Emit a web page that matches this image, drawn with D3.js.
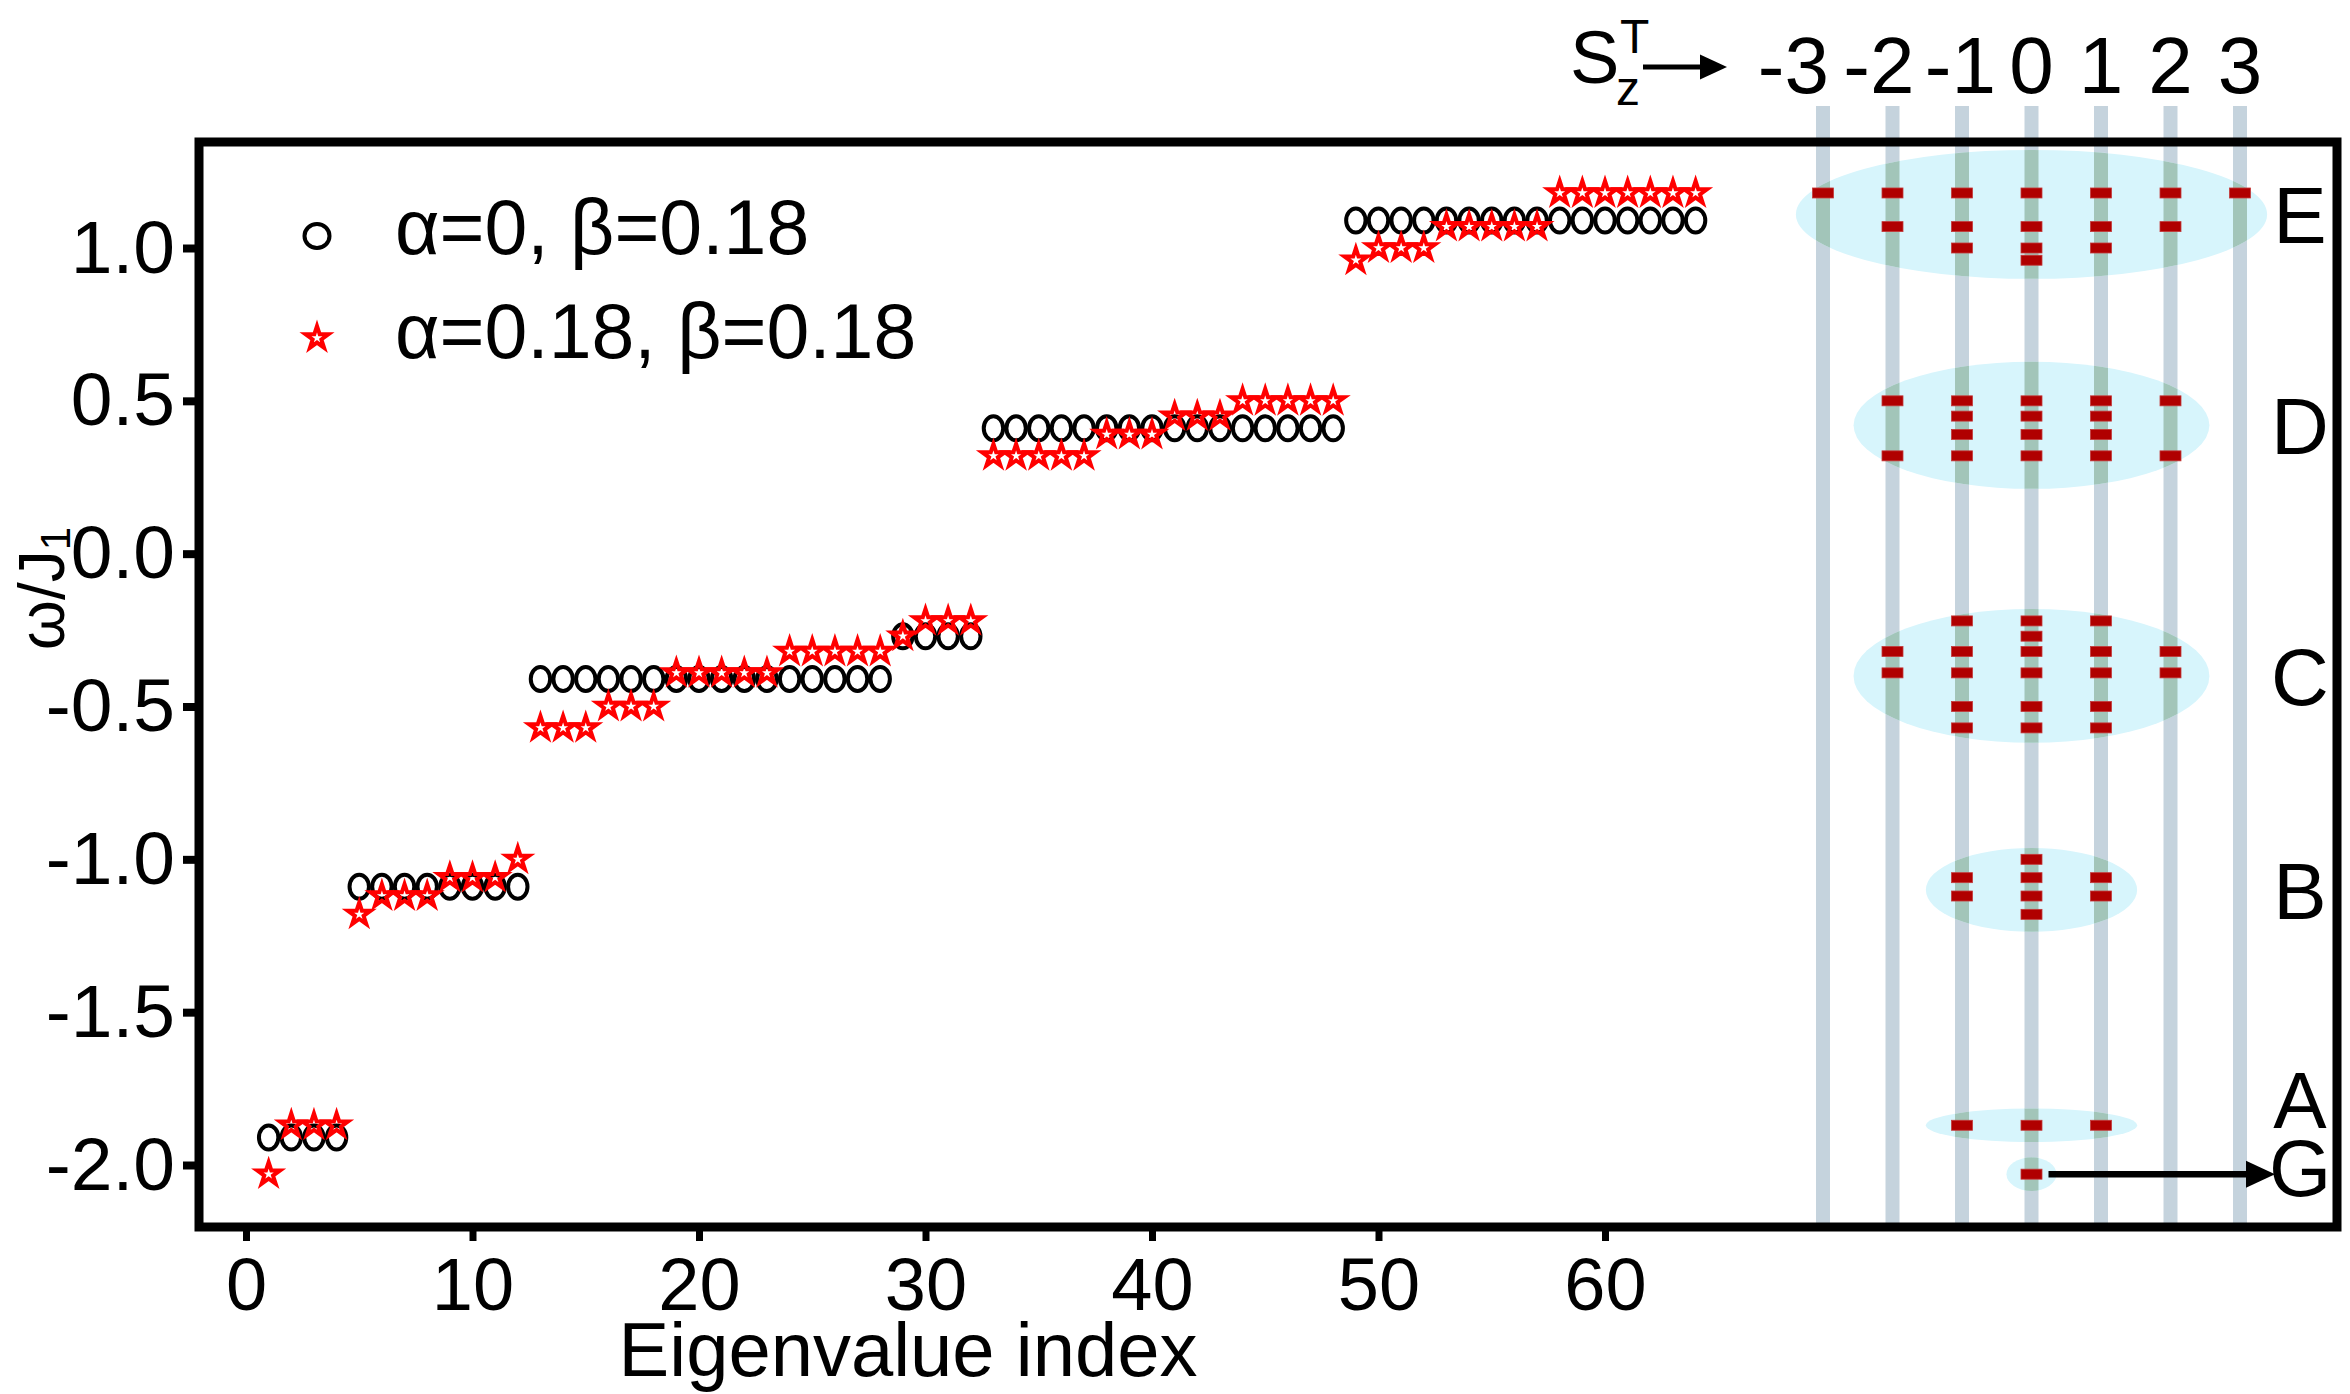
<!DOCTYPE html>
<html>
<head>
<meta charset="utf-8">
<script src="https://cdn.jsdelivr.net/npm/d3@7"></script>
<style>
  body { margin: 0; background: #fff; }
  text { font-family: "Liberation Sans", Arial, sans-serif; fill: #000; }
</style>
</head>
<body>
<script>
// eigenvalue index of every point
var indices = [
  1, 2, 3, 4, 5, 6, 7, 8, 9, 10, 11, 12, 13, 14, 15, 16,
  17, 18, 19, 20, 21, 22, 23, 24, 25, 26, 27, 28, 29, 30, 31, 32,
  33, 34, 35, 36, 37, 38, 39, 40, 41, 42, 43, 44, 45, 46, 47, 48,
  49, 50, 51, 52, 53, 54, 55, 56, 57, 58, 59, 60, 61, 62, 63, 64
];

// alpha=0, beta=0.18  (black circles)
var circleValues = [
  -1.91, -1.91, -1.91, -1.91,
  -1.09, -1.09, -1.09, -1.09, -1.09, -1.09, -1.09, -1.09,
  -0.41, -0.41, -0.41, -0.41, -0.41, -0.41, -0.41, -0.41,
  -0.41, -0.41, -0.41, -0.41, -0.41, -0.41, -0.41, -0.41,
  -0.27, -0.27, -0.27, -0.27,
  0.41, 0.41, 0.41, 0.41, 0.41, 0.41, 0.41, 0.41,
  0.41, 0.41, 0.41, 0.41, 0.41, 0.41, 0.41, 0.41,
  1.09, 1.09, 1.09, 1.09, 1.09, 1.09, 1.09, 1.09,
  1.09, 1.09, 1.09, 1.09, 1.09, 1.09, 1.09, 1.09
];

// alpha=0.18, beta=0.18  (red stars)
var starValues = [
  -2.03,
  -1.87, -1.87, -1.87,
  -1.18,
  -1.12, -1.12, -1.12,
  -1.06, -1.06, -1.06,
  -1.00,
  -0.57, -0.57, -0.57,
  -0.50, -0.50, -0.50,
  -0.39, -0.39, -0.39, -0.39, -0.39,
  -0.32, -0.32, -0.32, -0.32, -0.32,
  -0.27,
  -0.22, -0.22, -0.22,
  0.32, 0.32, 0.32, 0.32, 0.32,
  0.39, 0.39, 0.39,
  0.45, 0.45, 0.45,
  0.50, 0.50, 0.50, 0.50, 0.50,
  0.96,
  1.00, 1.00, 1.00,
  1.07, 1.07, 1.07, 1.07, 1.07,
  1.18, 1.18, 1.18, 1.18, 1.18, 1.18, 1.18
];

var seriesNames = ["\u03b1=0, \u03b2=0.18", "\u03b1=0.18, \u03b2=0.18"];

var xTicks = [0, 10, 20, 30, 40, 50, 60];
var yTicks = [-2, -1.5, -1, -0.5, 0, 0.5, 1];
var szValues = [-3, -2, -1, 0, 1, 2, 3];

// groups of levels in the S_z^T panel (energy centre, half height in energy, half width in S_z)
var groupNames = ["G", "A", "B", "C", "D", "E"];
var groupLevel = [-2.03, -1.87, -1.10, -0.40, 0.42, 1.11];
var groupHalfHeight = [0.055, 0.055, 0.137, 0.219, 0.208, 0.211];
var groupHalfWidth = [0.36, 1.52, 1.52, 2.56, 2.56, 3.39];

var W = 2350, H = 1394;
var frame = { left: 199, top: 142, right: 2337, bottom: 1227 };

var svg = d3.select("body").append("svg")
    .attr("width", W)
    .attr("height", H);

var x = d3.scaleLinear().domain([0, 60]).range([246, 1605]);
var y = d3.scaleLinear().domain([-2, 1]).range([1165, 248]);
var sz = d3.scaleLinear().domain([-3, 3]).range([1823, 2240]);

/* multiplets of the red series -> one dash per S_z^T value */
var multiplets = [];
starValues.forEach(function(v) {
  var last = multiplets[multiplets.length - 1];
  if (last && last.e === v) last.n++;
  else multiplets.push({ e: v, n: 1 });
});
var dashes = [];
multiplets.forEach(function(m) {
  var s = (m.n - 1) / 2;
  for (var k = -s; k <= s; k++) dashes.push({ m: k, e: m.e });
});

var groups = groupNames.map(function(g, i) {
  return { name: g, level: groupLevel[i], hh: groupHalfHeight[i], hw: groupHalfWidth[i] };
});

function ellipseAttrs(sel) {
  sel.attr("cx", sz(0))
     .attr("cy", function(d) { return y(d.level); })
     .attr("rx", function(d) { return sz(d.hw) - sz(0); })
     .attr("ry", function(d) { return y(d.level - d.hh) - y(d.level); });
}

var defs = svg.append("defs");
defs.append("clipPath").attr("id", "blobs")
  .selectAll("ellipse").data(groups).join("ellipse").call(ellipseAttrs);

/* S_z^T columns */
var barTop = 106, barBottom = 1225;
svg.append("g").selectAll("rect").data(szValues).join("rect")
    .attr("x", function(d) { return sz(d) - 7; })
    .attr("y", barTop)
    .attr("width", 14)
    .attr("height", barBottom - barTop)
    .attr("fill", "#c5d3dd");

svg.append("g").selectAll("ellipse").data(groups).join("ellipse")
    .call(ellipseAttrs)
    .attr("fill", "#d7f5fc");

svg.append("g").attr("clip-path", "url(#blobs)")
  .selectAll("rect").data(szValues).join("rect")
    .attr("x", function(d) { return sz(d) - 7; })
    .attr("y", barTop)
    .attr("width", 14)
    .attr("height", barBottom - barTop)
    .attr("fill", "#a2c5b9");

svg.append("g").selectAll("rect").data(dashes).join("rect")
    .attr("x", function(d) { return sz(d.m) - 10.5; })
    .attr("y", function(d) { return y(d.e) - 5; })
    .attr("width", 21)
    .attr("height", 10)
    .attr("fill", "#b00000")
    .attr("stroke", "#c43a3a")
    .attr("stroke-width", 0.8);

// arrow from the ground state to its label
var gy0 = y(starValues[0]);
svg.append("line")
    .attr("x1", sz(0) + 17).attr("x2", 2250)
    .attr("y1", gy0).attr("y2", gy0)
    .attr("stroke", "#000").attr("stroke-width", 6.5);
svg.append("path")
    .attr("d", "M2246," + (gy0 - 13.5) + "L2275," + gy0 + "L2246," + (gy0 + 13.5) + "Z")
    .attr("fill", "#000");

/* frame */
svg.append("rect")
    .attr("x", frame.left).attr("y", frame.top)
    .attr("width", frame.right - frame.left)
    .attr("height", frame.bottom - frame.top)
    .attr("fill", "none")
    .attr("stroke", "#000")
    .attr("stroke-width", 9);

/* axes */
var yAxis = d3.axisLeft(y).tickValues(yTicks).tickSize(16).tickPadding(8)
    .tickFormat(function(d) { return d.toFixed(1); });
var gY = svg.append("g").attr("transform", "translate(" + frame.left + ",0)").call(yAxis);
gY.select(".domain").remove();
gY.selectAll(".tick line").attr("stroke", "#000").attr("stroke-width", 8);
gY.selectAll(".tick text").style("font-size", "75px");

var xAxis = d3.axisBottom(x).tickValues(xTicks).tickSize(14).tickPadding(16);
var gX = svg.append("g").attr("transform", "translate(0," + frame.bottom + ")").call(xAxis);
gX.select(".domain").remove();
gX.selectAll(".tick line").attr("stroke", "#000").attr("stroke-width", 7);
gX.selectAll(".tick text").style("font-size", "74px");

svg.append("text")
    .attr("x", 908).attr("y", 1376)
    .attr("text-anchor", "middle")
    .style("font-size", "76px")
    .text("Eigenvalue index");

var yTitle = svg.append("text")
    .attr("transform", "translate(64,650) rotate(-90)")
    .style("font-size", "64px");
yTitle.append("tspan").text("\u03c9/J");
yTitle.append("tspan").attr("dy", 6).style("font-size", "42px").text("1");

/* markers */
var starPath = d3.symbol(d3.symbolStar, 12 * 12 / 0.8908130915);

svg.append("g").selectAll("ellipse").data(circleValues).join("ellipse")
    .attr("cx", function(d, i) { return x(indices[i]); })
    .attr("cy", function(d) { return y(d); })
    .attr("rx", 9.7)
    .attr("ry", 12)
    .attr("fill", "none")
    .attr("stroke", "#000")
    .attr("stroke-width", 4);

svg.append("g").selectAll("path").data(starValues).join("path")
    .attr("d", starPath)
    .attr("transform", function(d, i) { return "translate(" + x(indices[i]) + "," + y(d) + ")"; })
    .attr("fill", "none")
    .attr("stroke", "#ff0000")
    .attr("stroke-width", 4);

/* legend */
svg.append("ellipse")
    .attr("cx", 317).attr("cy", 236).attr("rx", 12.5).attr("ry", 12)
    .attr("fill", "none").attr("stroke", "#000").attr("stroke-width", 4);
svg.append("path")
    .attr("d", starPath)
    .attr("transform", "translate(317,338)")
    .attr("fill", "none").attr("stroke", "#ff0000").attr("stroke-width", 4);
svg.append("text").attr("x", 395).attr("y", 254).style("font-size", "77px").text(seriesNames[0]);
svg.append("text").attr("x", 395).attr("y", 358).style("font-size", "77px").text(seriesNames[1]);

/* S_z^T header */
svg.append("text").attr("x", 1570).attr("y", 83).style("font-size", "74px").text("S");
svg.append("text").attr("x", 1620).attr("y", 53).style("font-size", "48px").text("T");
svg.append("text").attr("x", 1616).attr("y", 105).style("font-size", "48px").text("z");
svg.append("line")
    .attr("x1", 1643).attr("x2", 1705).attr("y1", 67).attr("y2", 67)
    .attr("stroke", "#000").attr("stroke-width", 5);
svg.append("path").attr("d", "M1700,54.5L1727,67L1700,79.5Z").attr("fill", "#000");

// the minus signs push the negative labels left of their column
var szNudge = { "-3": -16, "-2": 0, "-1": 12 };
svg.append("g").selectAll("text").data(szValues).join("text")
    .attr("x", function(d) { return d < 0 ? sz(d) + 22 + szNudge[d] : sz(d); })
    .attr("y", 93)
    .attr("text-anchor", function(d) { return d < 0 ? "end" : "middle"; })
    .style("font-size", "80px")
    .text(function(d) { return String(d); });

/* group letters */
var letterNudge = { A: -26, G: -7 };
svg.append("g").selectAll("text").data(groups).join("text")
    .attr("x", 2300)
    .attr("y", function(d) { return y(d.level) + 29 + (letterNudge[d.name] || 0); })
    .attr("text-anchor", "middle")
    .style("font-size", "80px")
    .text(function(d) { return d.name; });
</script>
</body>
</html>
